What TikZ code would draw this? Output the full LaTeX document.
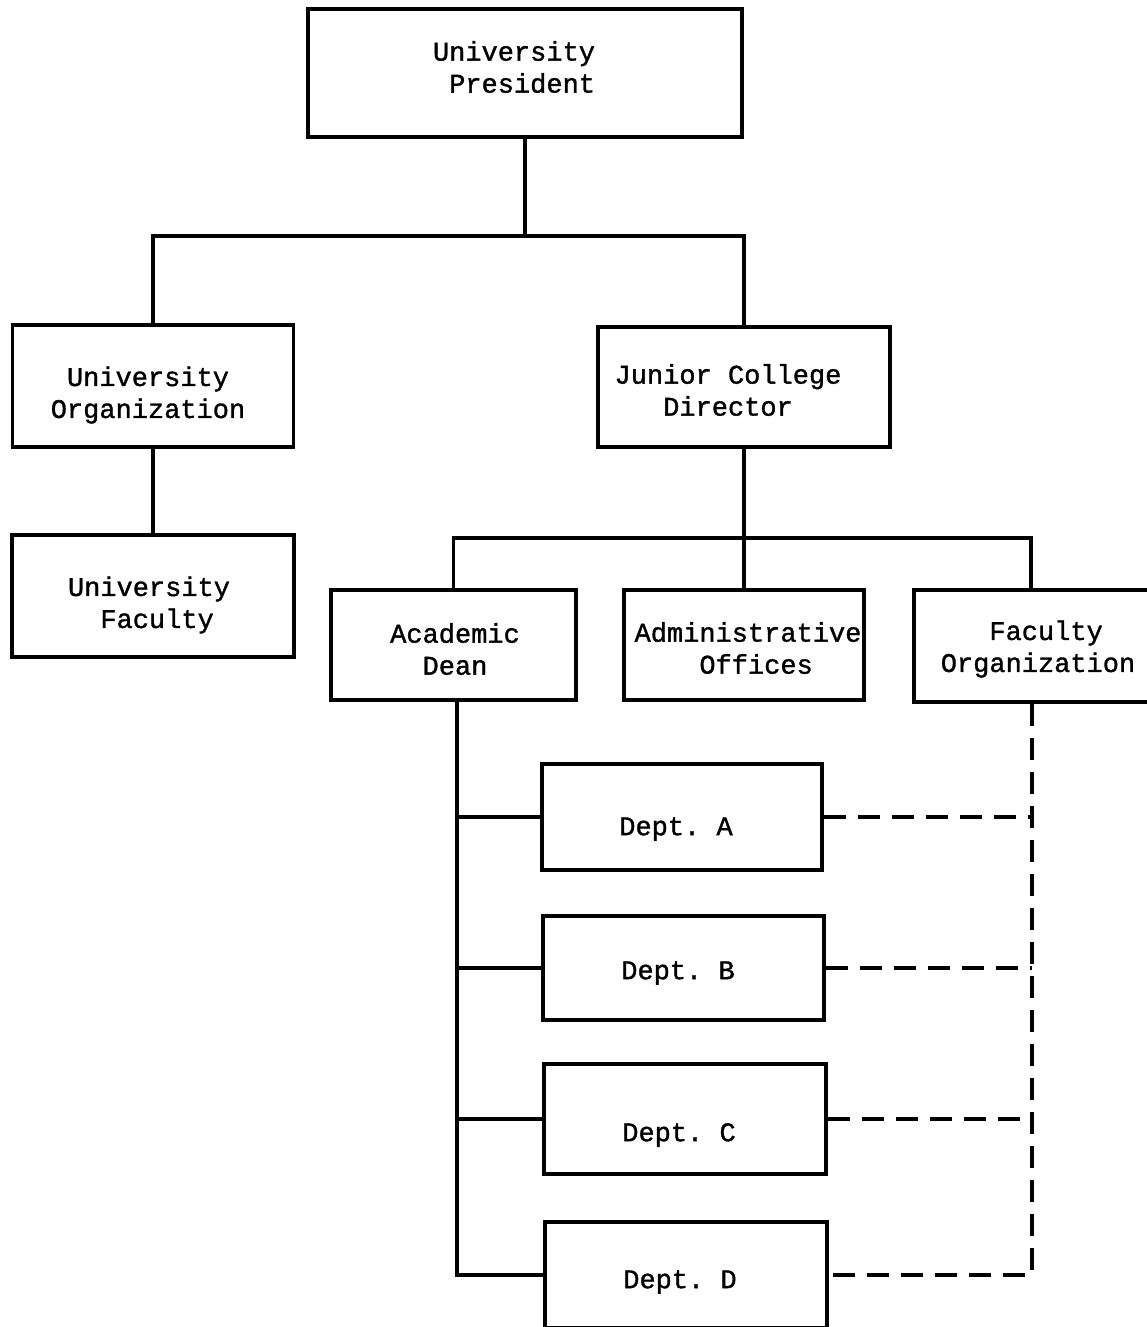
\documentclass[tikz,border=0pt]{standalone}
\usepackage{fontspec}
\newfontfamily\typew[FakeBold=1.2]{Liberation Mono}
\begin{document}
\frenchspacing
\begin{tikzpicture}[x=1pt,y=-1pt,
  box/.style={draw, line width=3.4pt, inner sep=0pt},
  txt/.style={inner sep=0pt, align=center,
    font=\typew\fontsize{27}{32}\selectfont\frenchspacing},
  conn/.style={line width=3.4pt},
  dsh/.style={line width=3.4pt, dash pattern=on 22pt off 12pt}]
\clip (0,0) rectangle (1147,1327);
\fill[white] (0,0) rectangle (1147,1327);

% boxes
\node[box, minimum width=434, minimum height=128] (pres) at (525,73) {};
\node[box, minimum width=281, minimum height=122] (uorg) at (153,386) {};
\node[box, minimum width=292, minimum height=120] (jcd) at (744,387) {};
\node[box, minimum width=282, minimum height=122] (ufac) at (153,596) {};
\node[box, minimum width=245, minimum height=110] (dean) at (453.5,645) {};
\node[box, minimum width=240, minimum height=110] (adm) at (744,645) {};
\node[box, minimum width=246, minimum height=112] (fo) at (1037,646) {};
\node[box, minimum width=280, minimum height=106] (dA) at (682,817) {};
\node[box, minimum width=281, minimum height=104] (dB) at (683.5,968) {};
\node[box, minimum width=282, minimum height=110] (dC) at (685,1119) {};
\node[box, minimum width=282, minimum height=106] (dD) at (686,1275) {};

% texts
\node[txt, align=left] (presT) at (514,67) {University\\\phantom{x}President};
\node[txt] (uorgT) at (148,395) {University\\Organization};
\node[txt] (jcdT) at (728,390) {Junior College\\Director};
\node[txt, align=left] (ufacT) at (149,605) {University\\\phantom{xx}Faculty};
\node[txt] (deanT) at (455,649) {Academic\\Dean};
\node[txt] (admT) at (748,648) {Administrative\\\phantom{x}Offices};
\node[txt] (foT) at (1038,649) {\phantom{x}Faculty\\Organization};
\node[txt] (dAT) at (676,829) {Dept. A};
\node[txt] (dBT) at (678,973) {Dept. B};
\node[txt] (dCT) at (679,1135) {Dept. C};
\node[txt] (dDT) at (680,1282) {Dept. D};

% president to second level
\coordinate (j1) at (525,236);
\draw[conn] (pres.south) -- (j1);
\draw[conn] (uorg.north) |- (j1) -| (jcd.north);
\draw[conn] (uorg) -- (ufac);

% director to third level
\coordinate (j2) at (744,538);
\coordinate (fin) at ([xshift=-6]fo.north);
\draw[conn] (jcd.south) -- (adm.north);
\draw[conn] (dean.north) |- (j2) -| (fin);

% dean to departments
\coordinate (dl) at ([xshift=3.5]dean.south);
\draw[conn] (dl) |- (dD.west);
\foreach \d in {dA,dB,dC} {
  \draw[conn] (\d.west -| dl) -- (\d.west);
}

% faculty organization dashed links
\coordinate (fl) at ([xshift=-5]fo.south);
\draw[dsh] (fl) |- (dD.east);
\foreach \d in {dA,dB,dC} {
  \draw[dsh] (\d.east) -- (\d.east -| fl);
}
\end{tikzpicture}
\end{document}
